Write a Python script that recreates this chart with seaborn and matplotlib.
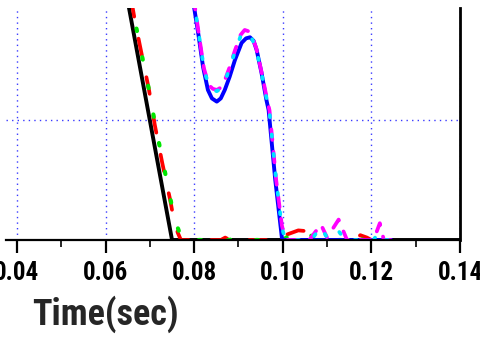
import matplotlib
matplotlib.use("Agg")
import matplotlib.pyplot as plt
from matplotlib import font_manager
import seaborn as sns
import pandas as pd
from matplotlib.ticker import FixedLocator

# ---- data ----
black_t = [0.0647, 0.0750, 0.1000, 0.1400]
black_y = [2.05, 0.0, 0.0, 0.0]

red_t = [0.0658, 0.0666, 0.0678, 0.0698, 0.0711, 0.0728, 0.0746, 0.0754, 0.0763, 0.0770,
         0.0800, 0.0860, 0.0870, 0.0880, 0.0980, 0.0995, 0.1005, 0.1020, 0.1035, 0.1065,
         0.1080, 0.1160, 0.1175, 0.1190, 0.1200, 0.1250]
red_y = [2.0, 1.83, 1.61, 1.25, 0.96, 0.64, 0.33, 0.17, 0.06, 0.0,
         0.0, 0.0, 0.02, 0.0, 0.0, 0.03, 0.04, 0.06, 0.08, 0.07,
         0.0, 0.0, 0.04, 0.02, 0.0, 0.0]

green_t = [0.0657, 0.0666, 0.0678, 0.0698, 0.0712, 0.0730, 0.0747, 0.0756, 0.0766, 0.0772,
           0.0880, 0.0890, 0.0900, 0.0990, 0.1000, 0.1020, 0.1037, 0.1060, 0.1075, 0.1150,
           0.1165, 0.1180, 0.1200, 0.1230]
green_y = [2.0, 1.83, 1.61, 1.25, 0.96, 0.64, 0.33, 0.17, 0.07, 0.0,
           0.0, 0.02, 0.0, 0.0, 0.0, 0.05, 0.065, 0.05, 0.0, 0.0,
           0.06, 0.0, 0.0, 0.0]

blue_t = [0.0797, 0.0800, 0.0809, 0.0820, 0.0831, 0.0840, 0.0851, 0.0860, 0.0869, 0.0880,
          0.0892, 0.0907, 0.0917, 0.0926, 0.0934, 0.0941, 0.0952, 0.0963, 0.0968, 0.0983,
          0.0998, 0.1000, 0.1248]
blue_y = [2.1, 1.933, 1.725, 1.442, 1.25, 1.18, 1.153, 1.18, 1.25, 1.36,
          1.5, 1.642, 1.68, 1.689, 1.66, 1.583, 1.392, 1.167, 1.083, 0.5,
          0.017, 0.0, 0.0]

magenta_t = [0.0799, 0.0802, 0.0811, 0.0822, 0.0833, 0.0842, 0.0851, 0.0860, 0.0869, 0.0880,
             0.0892, 0.0905, 0.0914, 0.0922, 0.0930, 0.0940, 0.0952, 0.0964, 0.0970, 0.0985,
             0.0998, 0.1002, 0.1010, 0.1060, 0.1086, 0.1100, 0.1126, 0.1145, 0.1205, 0.1219,
             0.1228, 0.1245]
magenta_y = [2.1, 1.933, 1.70, 1.43, 1.29, 1.26, 1.25, 1.27, 1.33, 1.44,
             1.58, 1.71, 1.75, 1.74, 1.70, 1.60, 1.40, 1.18, 1.08, 0.50,
             0.12, 0.06, 0.0, 0.0, 0.13, 0.02, 0.17, 0.0, 0.0, 0.14,
             0.0, 0.0]

cyan_t = [0.0799, 0.0802, 0.0811, 0.0822, 0.0833, 0.0842, 0.0851, 0.0860, 0.0869, 0.0880,
          0.0892, 0.0905, 0.0914, 0.0922, 0.0930, 0.0940, 0.0952, 0.0964, 0.0970, 0.0985,
          0.0998, 0.1003, 0.1010, 0.1065, 0.1085, 0.1100, 0.1125, 0.1140, 0.1205, 0.1215,
          0.1225, 0.1253]
cyan_y = [2.1, 1.933, 1.70, 1.43, 1.28, 1.25, 1.24, 1.26, 1.32, 1.43,
          1.57, 1.70, 1.73, 1.72, 1.68, 1.59, 1.39, 1.17, 1.07, 0.50,
          0.10, 0.04, 0.0, 0.0, 0.11, 0.02, 0.08, 0.0, 0.0, 0.06,
          0.0, 0.0]

xticks = [0.04, 0.06, 0.08, 0.10, 0.12, 0.14]
xtick_labels = ["0.04", "0.06", "0.08", "0.10", "0.12", "0.14"]
xminor = [0.05, 0.07, 0.09, 0.11, 0.13]

# ---- pick the narrowest bold sans available ----
installed = {f.name for f in font_manager.fontManager.ttflist}
narrow = None
for cand in ['Liberation Sans Narrow', 'Arial Narrow', 'Roboto Condensed',
             'Open Sans Condensed', 'DejaVu Sans Condensed', 'Noto Sans Condensed']:
    if cand in installed:
        narrow = cand
        break

sns.set_style("white")
if narrow:
    fam = [narrow, 'Liberation Sans', 'DejaVu Sans']
    tick_size, label_size = 18, 26
else:
    fam = ['Liberation Sans', 'DejaVu Sans']
    tick_size, label_size = 17, 23
plt.rcParams['font.family'] = fam
plt.rcParams['font.weight'] = 'bold'

fig = plt.figure(figsize=(4.8, 3.44), dpi=100)
ax = fig.add_axes([6 / 480, (344 - 240) / 344, 454 / 480, 232 / 344])

def draw(t, y, color, ls, lw, cap='round'):
    df = pd.DataFrame({"t": t, "y": y})
    sns.lineplot(data=df, x="t", y="y", ax=ax, color=color, linestyle=ls, linewidth=lw,
                 sort=False, estimator=None, dash_capstyle=cap, solid_capstyle='butt')

draw(black_t, black_y, "black", "-", 2.8)
draw(red_t, red_y, "#ff0000", (0, (4.5, 6)), 2.7)
draw(green_t, green_y, "#00e600", (0, (0.6, 6.4)), 3.0)
draw(blue_t, blue_y, "#0000ff", "-", 2.8)
draw(magenta_t, magenta_y, "#ff00ff", (0, (2.8, 3.2)), 2.7)
draw(cyan_t, cyan_y, "#00e5ff", (0, (0.6, 4.6)), 2.7)

ax.set_xlim(0.03752, 0.14)
ax.set_ylim(0, 1.933)

ax.xaxis.set_major_locator(FixedLocator(xticks))
ax.set_xticklabels(xtick_labels)
ax.xaxis.set_minor_locator(FixedLocator(xminor))
ax.set_yticks([1.0])
ax.set_yticklabels([])
ax.tick_params(axis='y', length=0, left=False)
ax.tick_params(axis='x', which='major', direction='out', length=9, width=1.6,
               bottom=True, labelsize=tick_size, pad=6, colors='black')
ax.tick_params(axis='x', which='minor', direction='out', length=5, width=1.4, bottom=True)
for lab in ax.get_xticklabels():
    lab.set_fontweight('bold')

ax.grid(True, which='major', color='#3a3aff', linestyle=(0, (1, 3)), linewidth=1.0)
ax.set_axisbelow(True)

for side in ['left', 'top']:
    ax.spines[side].set_visible(False)
ax.spines['bottom'].set_color('black')
ax.spines['bottom'].set_linewidth(1.6)
ax.spines['right'].set_color('black')
ax.spines['right'].set_linewidth(2.0)

ax.set_ylabel("")
ax.set_xlabel("Time(sec)", fontsize=label_size, fontweight='bold',
              ha='center', va='center')
ax.xaxis.set_label_coords((105 - 6) / 454, (240 - 314) / 232)

fig.savefig("out.png", dpi=100)
